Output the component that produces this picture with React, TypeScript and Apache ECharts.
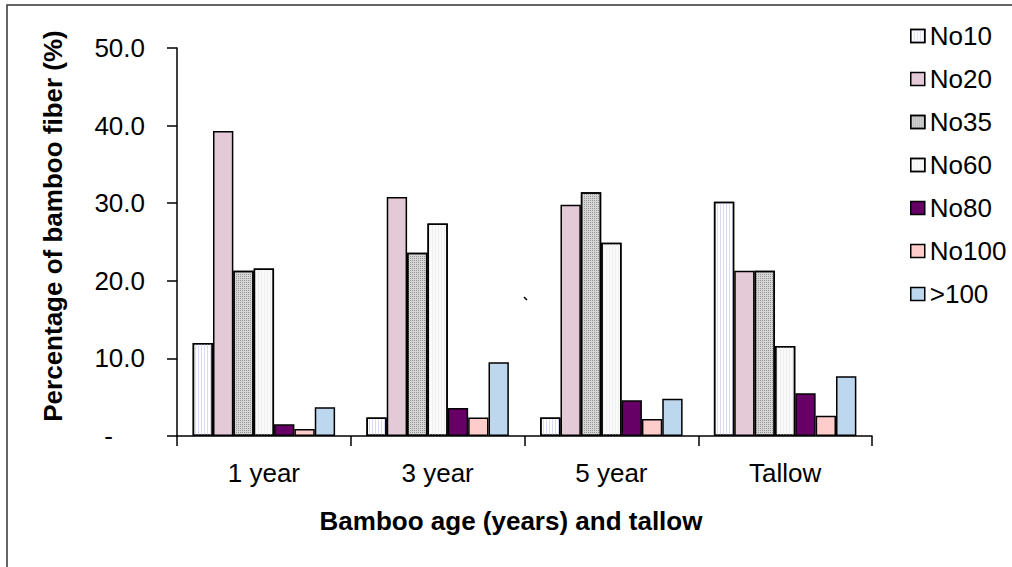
import React, { useEffect, useRef } from "react";
import * as echarts from "echarts";

const categories = ["1 year", "3 year", "5 year", "Tallow"];
const seriesNames = ["No10", "No20", "No35", "No60", "No80", "No100", ">100"];
const no10 = [12.0, 2.4, 2.4, 30.2];
const no20 = [39.3, 30.8, 29.8, 21.3];
const no35 = [21.3, 23.6, 31.4, 21.3];
const no60 = [21.6, 27.4, 24.9, 11.6];
const no80 = [1.5, 3.6, 4.6, 5.5];
const no100 = [0.9, 2.4, 2.2, 2.6];
const gt100 = [3.7, 9.5, 4.8, 7.7];
const yTicks = [0, 10, 20, 30, 40, 50];

const colors = ["#FFFFFF", "#E4C9D7", "#D6D6D6", "#FAFAFA", "#660066", "#FFCCCC", "#BDD7EE"];
const FONT = "'Liberation Sans', Arial, sans-serif";

const decals: any[] = [
  { symbol: "rect", symbolSize: 1, color: "#DADAF6", dashArrayX: [1, 2], dashArrayY: [1, 0], rotation: 0 },
  null,
  { symbol: "rect", symbolSize: 1, color: "#959595", dashArrayX: [1, 1], dashArrayY: [1, 1], rotation: 0 },
  { symbol: "rect", symbolSize: 1, color: "#EFEFEF", dashArrayX: [1, 2], dashArrayY: [1, 0], rotation: 0 },
  null,
  null,
  null,
];

export default function App() {
  const ref = useRef<HTMLDivElement>(null);
  useEffect(() => {
    document.body.style.margin = "0";
    const chart = echarts.init(ref.current!, null, { renderer: "svg" });
    const data = [no10, no20, no35, no60, no80, no100, gt100];
    chart.setOption({
      animation: false,
      backgroundColor: "#ffffff",
      textStyle: { fontFamily: FONT },
      grid: { left: 177, right: 140, top: 48, bottom: 131, containLabel: false },
      legend: {
        orient: "vertical",
        left: 905,
        top: 18,
        itemWidth: 14,
        itemHeight: 13,
        itemGap: 17,
        icon: "rect",
        data: seriesNames,
        textStyle: { fontSize: 26, color: "#000", fontFamily: FONT },
        itemStyle: { borderColor: "#000", borderWidth: 1.5 },
      },
      xAxis: {
        type: "category",
        data: categories,
        axisLine: { lineStyle: { color: "#000", width: 1.5 } },
        axisTick: { show: true, length: 10, lineStyle: { color: "#000", width: 1.5 } },
        axisLabel: { fontSize: 26, color: "#000", margin: 24, fontFamily: FONT },
        splitLine: { show: false },
      },
      yAxis: {
        type: "value",
        min: yTicks[0],
        max: yTicks[yTicks.length - 1],
        interval: 10,
        axisLine: { show: true, lineStyle: { color: "#000", width: 1.5 } },
        axisTick: { show: true, length: 10, lineStyle: { color: "#000", width: 1.5 } },
        splitLine: { show: false },
        axisLabel: {
          fontSize: 26,
          color: "#000",
          margin: 32,
          fontFamily: FONT,
          formatter: (v: number) => (v === 0 ? "{d|-}" : v.toFixed(1)),
          rich: { d: { fontSize: 26, color: "#000", padding: [0, 32, 0, 0], fontFamily: FONT } },
        },
      },
      series: seriesNames.map((name, i) => ({
        name,
        type: "bar",
        data: data[i],
        barGap: "0%",
        barCategoryGap: "18%",
        itemStyle: Object.assign(
          { color: colors[i], borderColor: "#000", borderWidth: 1.5 },
          decals[i] ? { decal: decals[i] } : {}
        ),
      })),
      graphic: [
        {
          type: "rect",
          shape: { x: 7, y: 5, width: 1200, height: 700 },
          style: { fill: "none", stroke: "#333", lineWidth: 1.5 },
          silent: true,
        },
        {
          type: "text",
          x: 53,
          y: 226,
          rotation: Math.PI / 2,
          style: {
            text: "Percentage of bamboo fiber (%)",
            font: `bold 26px ${FONT}`,
            fill: "#000",
            align: "center",
            verticalAlign: "middle",
          },
        },
        {
          type: "text",
          x: 511,
          y: 521,
          style: {
            text: "Bamboo age (years) and tallow",
            font: `bold 26px ${FONT}`,
            fill: "#000",
            align: "center",
            verticalAlign: "middle",
          },
        },
        {
          type: "line",
          shape: { x1: 524, y1: 297, x2: 527, y2: 300 },
          style: { stroke: "#000", lineWidth: 1.5 },
        },
      ],
    });
    return () => chart.dispose();
  }, []);
  return <div ref={ref} style={{ width: 1012, height: 567 }} />;
}
